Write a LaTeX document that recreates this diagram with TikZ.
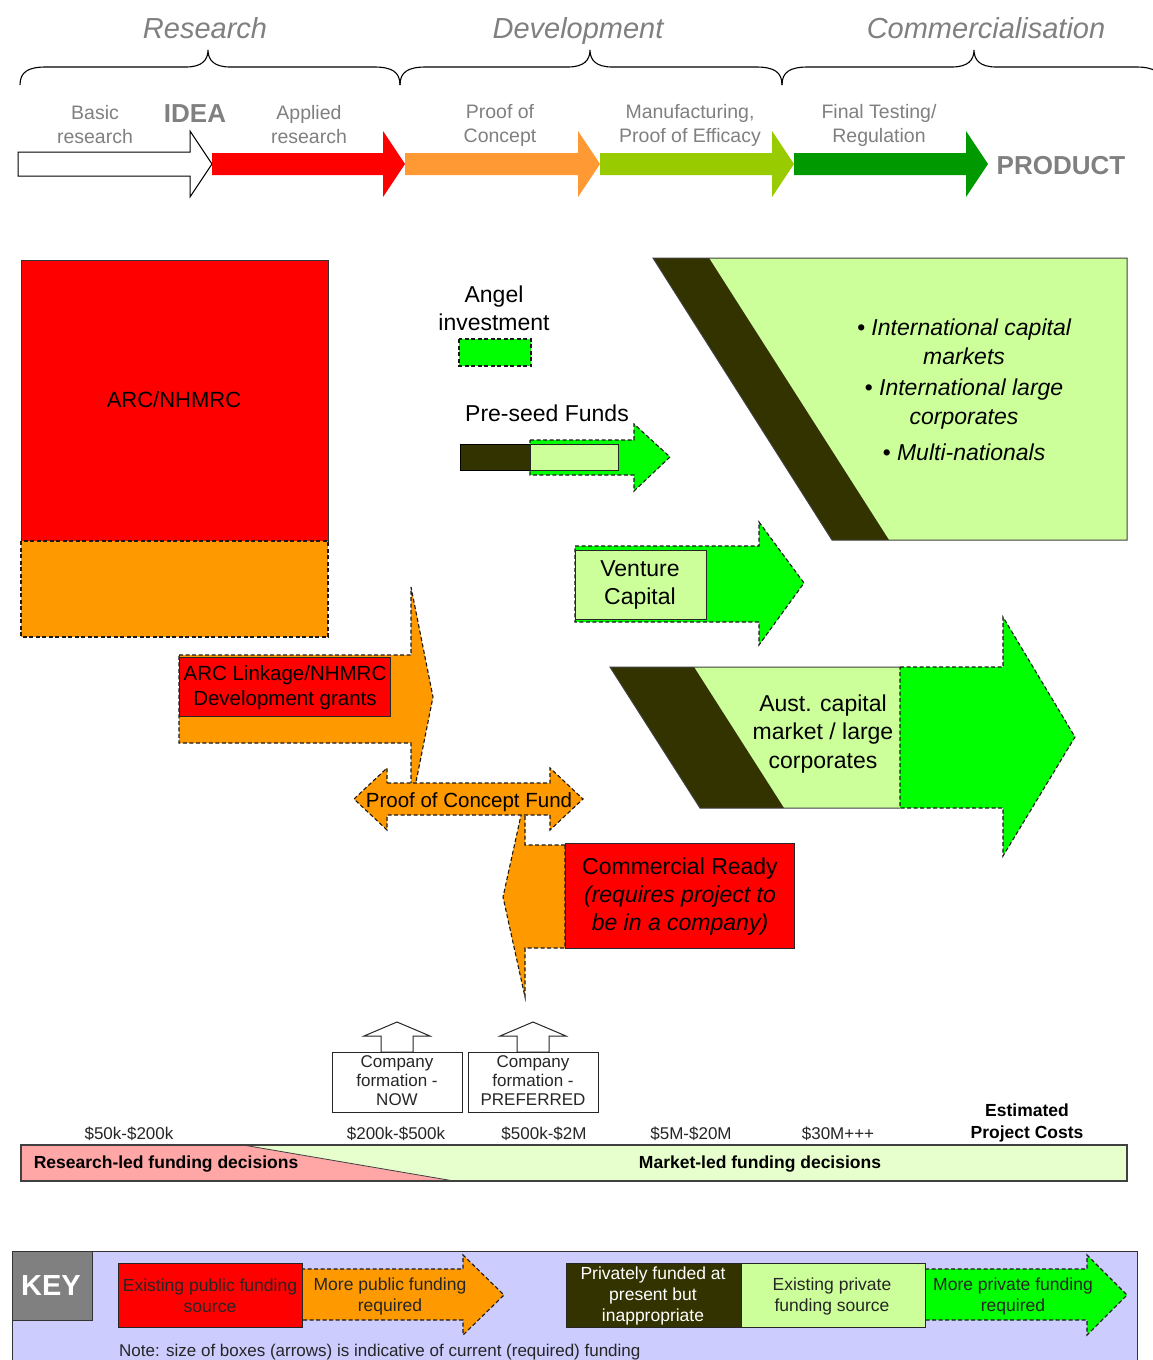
\documentclass[tikz,border=0pt]{standalone}
\usepackage{fontspec}
\setmainfont{Liberation Sans}
\definecolor{cred}{HTML}{FF0000}
\definecolor{corange}{HTML}{FF9900}
\definecolor{corangeT}{HTML}{FF9933}
\definecolor{cyg}{HTML}{99CC00}
\definecolor{cdg}{HTML}{009900}
\definecolor{cbg}{HTML}{00FF00}
\definecolor{clg}{HTML}{CCFF99}
\definecolor{cdark}{HTML}{333300}
\definecolor{cgray}{HTML}{808080}
\definecolor{clav}{HTML}{CCCCFF}
\definecolor{cpink}{HTML}{FFA6A6}
\definecolor{cpale}{HTML}{E6FFCC}
\newcommand{\mybrace}[3]{\draw[line width=1.1pt] (#1,85) .. controls (#1,72) and (#1+8,67) .. (#1+26,67) -- (#2-22,67) .. controls (#2-6,67) and (#2,60) .. (#2,50) .. controls (#2,60) and (#2+6,67) .. (#2+22,67) -- (#3-26,67) .. controls (#3-8,67) and (#3,72) .. (#3,85);}
\tikzset{
  lab/.style={inner sep=0pt, align=center},
  dsh/.style={draw=black!90, line width=1.1pt, dash pattern=on 4pt off 2.5pt},
  sol/.style={draw=black!80, line width=0.9pt},
  tgray/.style={lab, text=cgray, font=\fontsize{19.5}{24}\selectfont},
  tbig/.style={lab, font=\fontsize{23}{28}\selectfont},
  tsmall/.style={lab, text=black!85, font=\fontsize{17}{19}\selectfont},
  tkey/.style={lab, text=black!85, font=\fontsize{17.5}{21}\selectfont},
  phase/.style={lab, anchor=base, text=cgray, font=\fontsize{29}{34}\selectfont\itshape},
}
\begin{document}
\begin{tikzpicture}[x=1pt,y=-1pt]
\clip (0,0) rectangle (1153,1360);
\fill[white] (0,0) rectangle (1153,1360);

% ---------- top braces and phases ----------
\node[phase] (tRes) at (205,38.5) {Research};
\node[phase] (tDev) at (578,38.5) {Development};
\node[phase] (tCom) at (986,38.5) {Commercialisation};
\mybrace{20}{208}{400}
\mybrace{400}{590}{782}
\mybrace{782}{974}{1162}

% ---------- pipeline arrows ----------
\filldraw[fill=white, draw=black, line width=1pt] (18,152) -- (190,152) -- (190,131) -- (212,164) -- (190,197) -- (190,176) -- (18,176) -- cycle;
\fill[cred] (212,153) -- (383,153) -- (383,131) -- (405,164) -- (383,197) -- (383,175) -- (212,175) -- cycle;
\fill[corangeT] (405,153) -- (578,153) -- (578,131) -- (600,164) -- (578,197) -- (578,175) -- (405,175) -- cycle;
\fill[cyg] (600,153) -- (772,153) -- (772,131) -- (794,164) -- (772,197) -- (772,175) -- (600,175) -- cycle;
\fill[cdg] (794,153) -- (966,153) -- (966,131) -- (988,164) -- (966,197) -- (966,175) -- (794,175) -- cycle;

\node[tgray] (lBasic) at (95,125) {Basic\\research};
\node[lab,text=cgray,font=\fontsize{26}{30}\selectfont\bfseries] (lIdea) at (195,114) {IDEA};
\node[tgray] (lApp) at (309,125) {Applied\\research};
\node[tgray] (lPoc) at (500,125) {Proof of\\Concept};
\node[tgray] (lMan) at (690,125) {Manufacturing,\\Proof of Efficacy};
\node[tgray] (lFin) at (879,125) {Final Testing/\\Regulation};
\node[lab,text=cgray,font=\fontsize{26}{30}\selectfont\bfseries] (lProd) at (1061,166) {PRODUCT};

% ---------- ARC/NHMRC ----------
\filldraw[fill=cred, sol] (21,260) rectangle (328,541);
\filldraw[fill=corange, dsh] (21,541) rectangle (328,637);
\node[lab,font=\fontsize{22}{26}\selectfont] (tArc) at (174,400) {ARC/NHMRC};

% ---------- Angel ----------
\node[tbig] (tAngel) at (494,308) {Angel\\investment};
\filldraw[fill=cbg, dsh] (459,339) rectangle (531,366);

% ---------- Pre-seed ----------
\node[tbig] (tPre) at (547,413) {Pre-seed Funds};
\filldraw[fill=cbg, dsh] (530,440) -- (634,440) -- (634,424) -- (670,457) -- (634,491) -- (634,475) -- (530,475) -- cycle;
\filldraw[fill=cdark, draw=black, line width=0.8pt] (460,444) rectangle (530,470);
\filldraw[fill=clg, draw=black!85, line width=0.9pt] (530,444) rectangle (618,470);

% ---------- International ----------
\fill[clg] (709,258) -- (1127,258) -- (1127,540) -- (889,540) -- cycle;
\fill[cdark] (653,258) -- (709,258) -- (889,540) -- (832,540) -- cycle;
\draw[black!75, line width=1pt] (653,258) -- (1127,258) -- (1127,540) -- (832,540) -- cycle;
\node[lab,font=\fontsize{23}{29}\selectfont\itshape] (b1) at (964,342) {\textbullet\ International capital\\markets};
\node[lab,font=\fontsize{23}{29}\selectfont\itshape] (b2) at (964,404) {\textbullet\ International large\\corporates};
\node[lab,font=\fontsize{23}{29}\selectfont\itshape] (b3) at (964,452) {\textbullet\ Multi-nationals};

% ---------- Venture capital ----------
\filldraw[fill=cbg, dsh] (575,546) -- (759,546) -- (759,522) -- (804,583) -- (759,645) -- (759,622) -- (575,622) -- cycle;
\filldraw[fill=clg, draw=black!85, line width=0.9pt] (575,550) rectangle (706,619);
\node[tbig] (tVC) at (640,585) {Venture\\Capital};

% ---------- Aust. capital ----------
\fill[clg] (694,667) -- (900,667) -- (900,808) -- (784,808) -- cycle;
\fill[cdark] (610,667) -- (694,667) -- (784,808) -- (700,808) -- cycle;
\draw[black!75, line width=1pt] (900,667) -- (610,667) -- (700,808) -- (900,808);
\filldraw[fill=cbg, dsh] (900,667) -- (1003,667) -- (1003,617) -- (1075,737) -- (1003,856) -- (1003,808) -- (900,808) -- cycle;
\node[lab,font=\fontsize{23}{28.5}\selectfont] (tAust) at (823,734) {Aust. capital\\market / large\\corporates};

% ---------- ARC Linkage ----------
\filldraw[fill=corange, dsh] (179,655) -- (411,655) -- (411,587) -- (433,697) -- (411,807) -- (411,743) -- (179,743) -- cycle;
\filldraw[fill=cred, draw=black!85, line width=0.9pt] (179,657) rectangle (390,716);
\node[lab,font=\fontsize{20.5}{25}\selectfont] (tLink) at (285,688) {ARC Linkage/NHMRC\\Development grants};

% ---------- Commercial Ready ----------
\filldraw[fill=corange, dsh] (565,845) -- (525,845) -- (525,797) -- (503,897) -- (525,997) -- (525,948) -- (565,948) -- cycle;
\filldraw[fill=cred, draw=black!85, line width=0.9pt] (565,843) rectangle (794,948);
\node[tbig] (tCR) at (680,897) {Commercial Ready\\\textit{(requires project to}\\\textit{be in a company)}};

% ---------- Proof of Concept Fund ----------
\filldraw[fill=corange, dsh] (387,783) -- (550,783) -- (550,768) -- (583,799) -- (550,830) -- (550,815) -- (387,815) -- (387,830) -- (354,799) -- (387,768) -- cycle;
\node[lab,anchor=base,font=\fontsize{20.5}{25}\selectfont] (tPocf) at (469,807) {Proof of Concept Fund};

% ---------- Company formation ----------
\filldraw[fill=white, draw=black!85, line width=1pt] (381,1052) -- (381,1036) -- (364,1036) -- (397,1022) -- (430,1036) -- (413,1036) -- (413,1052) -- cycle;
\filldraw[fill=white, draw=black!85, line width=1pt] (517,1052) -- (517,1036) -- (500,1036) -- (533,1022) -- (566,1036) -- (549,1036) -- (549,1052) -- cycle;
\filldraw[fill=white, draw=black!85, line width=1pt] (332,1052) rectangle (462,1112);
\filldraw[fill=white, draw=black!85, line width=1pt] (468,1052) rectangle (598,1112);
\node[tsmall] (tNow) at (397,1081) {Company\\formation -\\NOW};
\node[tsmall] (tPref) at (533,1081) {Company\\formation -\\PREFERRED};

% ---------- costs ----------
\node[tsmall] (c1) at (129,1134) {\$50k-\$200k};
\node[tsmall] (c2) at (396,1134) {\$200k-\$500k};
\node[tsmall] (c3) at (544,1134) {\$500k-\$2M};
\node[tsmall] (c4) at (691,1134) {\$5M-\$20M};
\node[tsmall] (c5) at (838,1134) {\$30M+++};
\node[lab,font=\fontsize{17.5}{22}\selectfont\bfseries] (tEst) at (1027,1123) {Estimated\\Project Costs};

% ---------- bar ----------
\fill[cpale] (21,1145) rectangle (1127,1181);
\fill[cpink] (21,1145) -- (243,1145) -- (454,1181) -- (21,1181) -- cycle;
\draw[black!75, line width=0.8pt] (243,1145) -- (454,1181);
\draw[black!75, line width=1.4pt] (21,1145) rectangle (1127,1181);
\node[lab,font=\fontsize{17.5}{21}\selectfont\bfseries] (tRL) at (166,1164) {Research-led funding decisions};
\node[lab,font=\fontsize{17.5}{21}\selectfont\bfseries] (tML) at (760,1164) {Market-led funding decisions};

% ---------- KEY ----------
\filldraw[fill=clav, draw=black!80, line width=1pt] (12,1251) rectangle (1137,1380);
\filldraw[fill=cgray, draw=black!80, line width=1pt] (12,1251) rectangle (92,1320);
\node[lab,text=white,font=\fontsize{29}{34}\selectfont\bfseries] (tKey) at (51,1286) {KEY};
\filldraw[fill=corange, dsh] (301,1269) -- (463,1269) -- (463,1255) -- (504,1295) -- (463,1335) -- (463,1320) -- (301,1320) -- cycle;
\filldraw[fill=cred, draw=black!85, line width=0.9pt] (118,1263) rectangle (302,1327);
\filldraw[fill=cbg, dsh] (925,1269) -- (1087,1269) -- (1087,1255) -- (1127,1295) -- (1087,1335) -- (1087,1320) -- (925,1320) -- cycle;
\filldraw[fill=cdark, draw=black!85, line width=0.9pt] (566,1263) rectangle (741,1327);
\filldraw[fill=clg, draw=black!85, line width=0.9pt] (741,1263) rectangle (925,1327);
\node[tkey] (k1) at (210,1296) {Existing public funding\\source};
\node[tkey] (k2) at (390,1296) {More public funding\\required};
\node[tkey,text=white] (k3) at (653,1296) {Privately funded at\\present but\\inappropriate};
\node[tkey] (k4) at (832,1296) {Existing private\\funding source};
\node[tkey] (k5) at (1013,1296) {More private funding\\required};
\node[tsmall,anchor=west] (note) at (119,1352) {Note: size of boxes (arrows) is indicative of current (required) funding};
\end{tikzpicture}
\end{document}
